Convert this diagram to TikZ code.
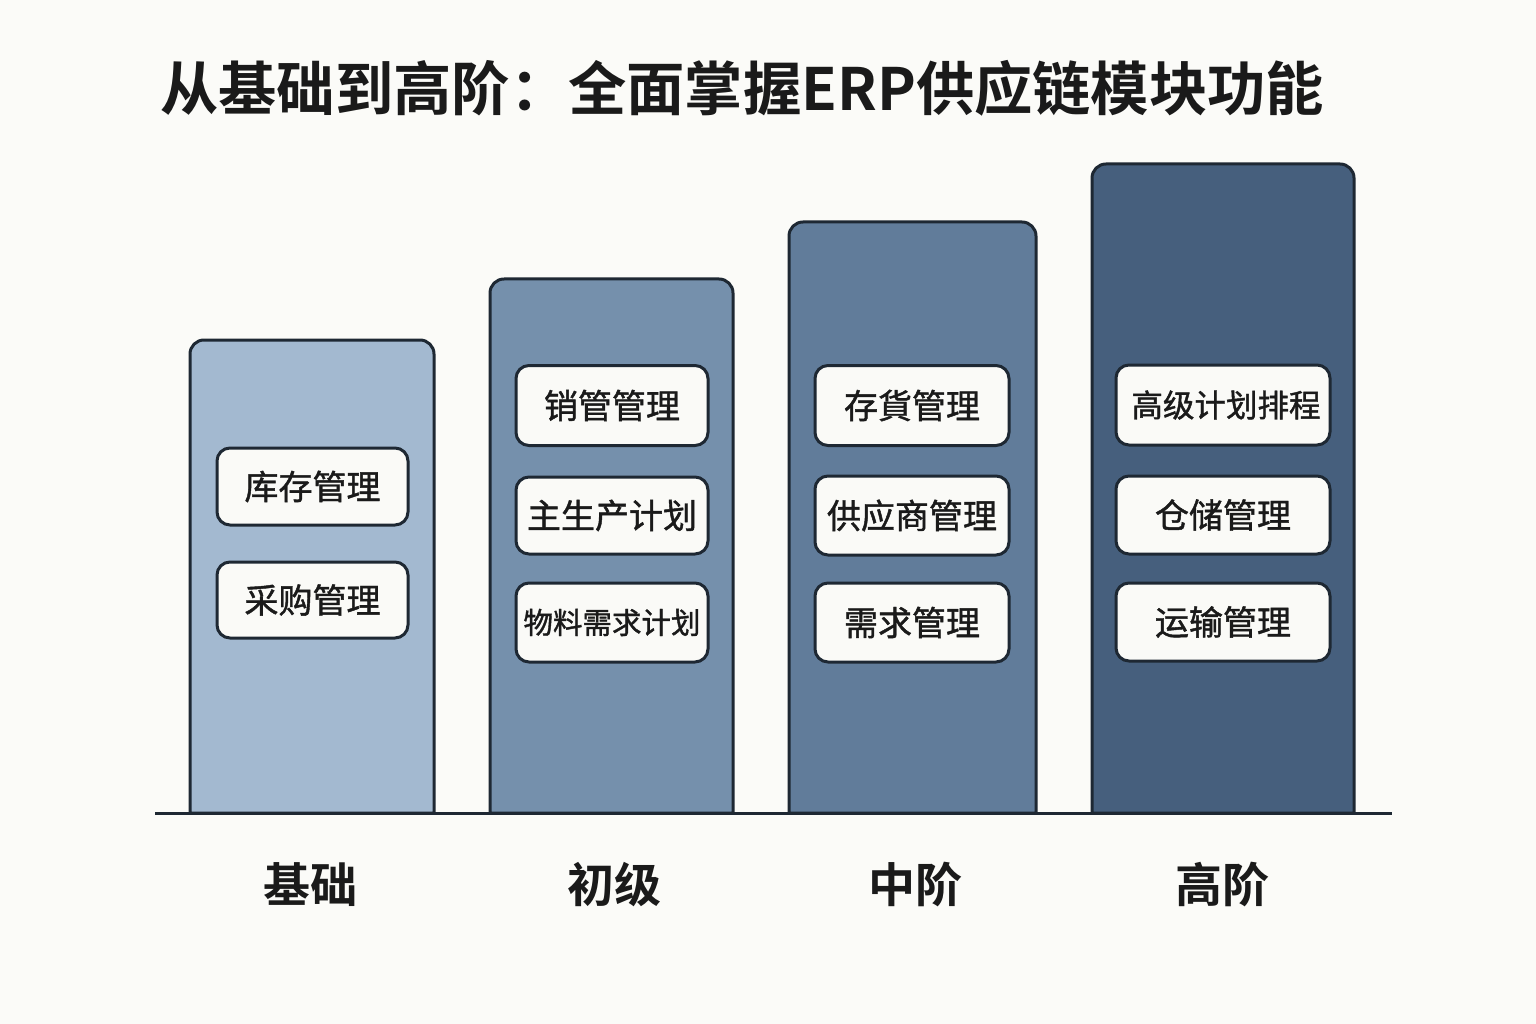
\documentclass[tikz,border=0pt]{standalone}
\usepackage{fontspec}
\setmainfont{Noto Sans CJK SC}[BoldFont={Noto Sans CJK SC Bold}]
\newfontfamily\medfont{Noto Sans CJK SC}[FakeBold=1.3]
\begin{document}
\begin{tikzpicture}[x=1pt,y=-1pt,
  barshape/.style={draw=edge,line width=3pt,line join=round},
  modbox/.style={draw=edge,line width=3pt,fill=boxc,rounded corners=13pt,inner sep=0pt,
     font=\medfont\fontsize{34}{36}\selectfont,text=txt},
  lvl/.style={font=\fontsize{47}{50}\selectfont\bfseries,text=txt},
  ttl/.style={font=\fontsize{58.3}{62}\selectfont\bfseries,text=txt,anchor=west,inner sep=0pt}
]
\definecolor{bgc}{HTML}{FBFBF8}
\definecolor{edge}{HTML}{1E2833}
\definecolor{boxc}{HTML}{FAFAF7}
\definecolor{txt}{HTML}{1A1A1A}
\definecolor{b1}{HTML}{A3B9D0}
\definecolor{b2}{HTML}{7590AC}
\definecolor{b3}{HTML}{617C9A}
\definecolor{b4}{HTML}{465F7D}
\fill[bgc] (0,0) rectangle (1536,1024);
\useasboundingbox (0,0) rectangle (1536,1024);

% title
\node[ttl] (title) at (160,88) {从基础到高阶：全面掌握ERP供应链模块功能};

% bars
\draw[barshape,fill=b1] (190,813) [rounded corners=14pt] -- (190,340) -- (434,340) [sharp corners] -- (434,813) -- cycle;
\draw[barshape,fill=b2] (490,813) [rounded corners=14pt] -- (490,279) -- (733,279) [sharp corners] -- (733,813) -- cycle;
\draw[barshape,fill=b3] (789,813) [rounded corners=14pt] -- (789,222) -- (1036,222) [sharp corners] -- (1036,813) -- cycle;
\draw[barshape,fill=b4] (1092,813) [rounded corners=14pt] -- (1092,164) -- (1354,164) [sharp corners] -- (1354,813) -- cycle;

% baseline
\coordinate (bl) at (155,813);
\coordinate (br) at (1392,813);
\draw[edge,line width=3pt] (bl) -- (br);

% bar 1
\node[modbox,minimum width=191pt,minimum height=77pt] (a1) at (312.5,486.5) {库存管理};
\node[modbox,minimum width=191pt,minimum height=76pt] (a2) at (312.5,600) {采购管理};
% bar 2
\node[modbox,minimum width=192pt,minimum height=80pt] (c1) at (612,405.5) {销管管理};
\node[modbox,minimum width=192pt,minimum height=77pt] (c2) at (612,515.5) {主生产计划};
\node[modbox,minimum width=192pt,minimum height=79pt,font=\medfont\fontsize{29.5}{32}\selectfont] (c3) at (612,622.5) {物料需求计划};
% bar 3
\node[modbox,minimum width=194pt,minimum height=80pt] (m1) at (912,405.5) {存貨管理};
\node[modbox,minimum width=194pt,minimum height=79pt] (m2) at (912,515.5) {供应商管理};
\node[modbox,minimum width=194pt,minimum height=79pt] (m3) at (912,622.5) {需求管理};
% bar 4
\node[modbox,minimum width=214pt,minimum height=80pt,font=\medfont\fontsize{31.5}{34}\selectfont] (h1) at (1223,405) {\hspace*{6pt}高级计划排程};
\node[modbox,minimum width=214pt,minimum height=78pt] (h2) at (1223,515) {仓储管理};
\node[modbox,minimum width=214pt,minimum height=78pt] (h3) at (1223,622) {运输管理};

% labels
\node[lvl] (l1) at (310,885) {基础};
\node[lvl] (l2) at (614,885) {初级};
\node[lvl] (l3) at (915,885) {中阶};
\node[lvl] (l4) at (1222,885) {高阶};
\end{tikzpicture}
\end{document}
